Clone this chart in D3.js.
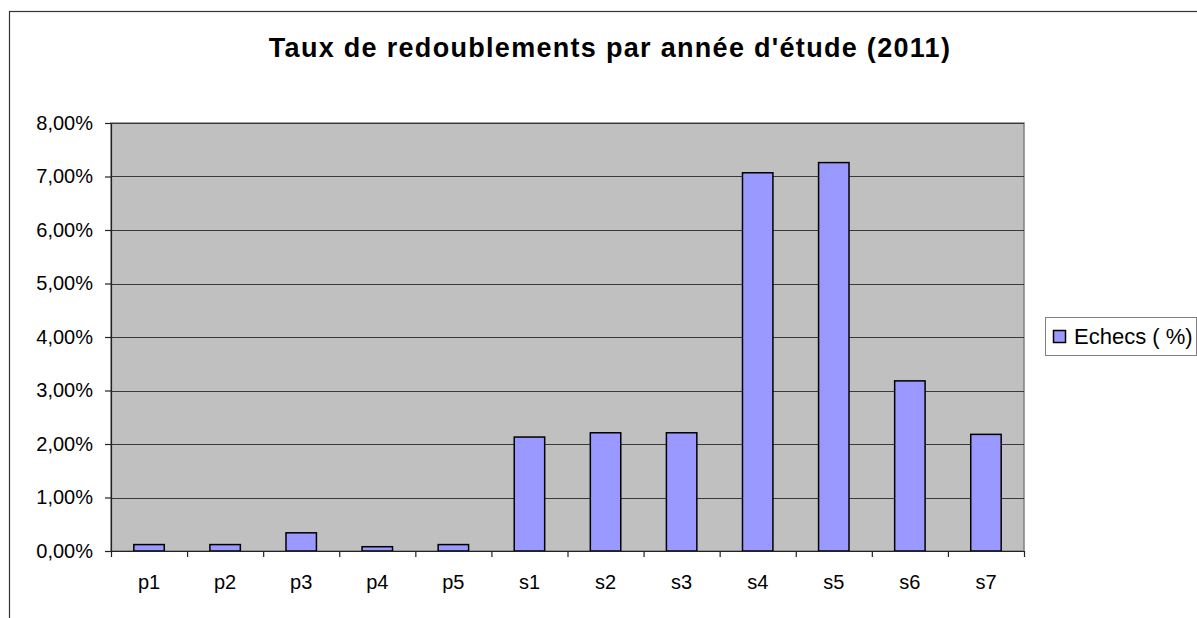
<!DOCTYPE html>
<html>
<head>
<meta charset="utf-8">
<script src="https://cdn.jsdelivr.net/npm/d3@7"></script>
<style>
  body { margin: 0; background: #fff; }
  svg { display: block; font-family: "Liberation Sans", Arial, sans-serif; }
</style>
</head>
<body>
<div id="chart"></div>
<script>
var svgWidth = 1197;
var svgHeight = 618;

// data
var categories = ["p1", "p2", "p3", "p4", "p5", "s1", "s2", "s3", "s4", "s5", "s6", "s7"];
var echecs = [0.0012, 0.0012, 0.0034, 0.0008, 0.0012, 0.0213, 0.0221, 0.0221, 0.0707, 0.0726, 0.0318, 0.0218];
var yTicks = [0, 0.01, 0.02, 0.03, 0.04, 0.05, 0.06, 0.07, 0.08];
var seriesName = "Echecs ( %)";
var title = "Taux de redoublements par année d'étude (2011)";

var plot = { left: 111, right: 1024, top: 123, bottom: 551 };

var svg = d3.select("#chart")
  .append("svg")
  .attr("width", svgWidth)
  .attr("height", svgHeight);

// outer chart frame (runs off the right and bottom edges)
svg.append("rect")
  .attr("x", 9.5)
  .attr("y", 11.5)
  .attr("width", 1300)
  .attr("height", 800)
  .attr("fill", "#fff")
  .attr("stroke", "#333")
  .attr("stroke-width", 1.2);

svg.append("text")
  .attr("x", 610)
  .attr("y", 57)
  .attr("text-anchor", "middle")
  .attr("font-size", "27px")
  .attr("font-weight", "bold")
  .attr("letter-spacing", "1.3px")
  .attr("fill", "#000")
  .text(title);

var x = d3.scaleBand()
  .domain(categories)
  .range([plot.left, plot.right])
  .paddingInner(0.6)
  .paddingOuter(0.3);

var xEdges = d3.scaleLinear()
  .domain([0, categories.length])
  .range([plot.left, plot.right]);

var y = d3.scaleLinear()
  .domain([0, 0.08])
  .range([plot.bottom, plot.top]);

// plot area
svg.append("rect")
  .attr("x", plot.left)
  .attr("y", plot.top)
  .attr("width", plot.right - plot.left)
  .attr("height", plot.bottom - plot.top)
  .attr("fill", "#c0c0c0")
  .attr("stroke", "#808080")
  .attr("stroke-width", 1.5);

// gridlines
svg.append("g")
  .selectAll("line")
  .data(yTicks.slice(1))
  .enter()
  .append("line")
  .attr("x1", plot.left)
  .attr("x2", plot.right)
  .attr("y1", d => Math.round(y(d)) + 0.5)
  .attr("y2", d => Math.round(y(d)) + 0.5)
  .attr("stroke", "#3a3a3a")
  .attr("stroke-width", 1);

// bars
svg.append("g")
  .selectAll("rect")
  .data(echecs)
  .enter()
  .append("rect")
  .attr("x", (d, i) => x(categories[i]))
  .attr("y", d => y(d))
  .attr("width", x.bandwidth())
  .attr("height", d => y(0) - y(d))
  .attr("fill", "#9999ff")
  .attr("stroke", "#000")
  .attr("stroke-width", 1.5);

var fmt = d => d3.format(".2f")(d * 100).replace(".", ",") + "%";

var leftAxis = d3.axisLeft(y)
  .tickValues(yTicks)
  .tickFormat(fmt)
  .tickSize(6)
  .tickSizeOuter(0)
  .tickPadding(12);

var yAxis = svg.append("g")
  .attr("transform", `translate(${plot.left}, 0)`)
  .call(leftAxis);
yAxis.selectAll("text")
  .attr("font-size", "20px")
  .attr("font-family", "Liberation Sans, Arial, sans-serif")
  .attr("fill", "#000");
yAxis.selectAll("line, path").attr("stroke", "#222").attr("stroke-width", 1.2);

// tick marks between categories
var edgeAxis = d3.axisBottom(xEdges)
  .tickValues(d3.range(0, categories.length + 1))
  .tickFormat("")
  .tickSize(6)
  .tickSizeOuter(0);

var xAxis = svg.append("g")
  .attr("transform", `translate(0, ${plot.bottom})`)
  .call(edgeAxis);
xAxis.selectAll("line, path").attr("stroke", "#222").attr("stroke-width", 1.2);

var bottomAxis = d3.axisBottom(x)
  .tickSize(0)
  .tickPadding(24);

var xLabels = svg.append("g")
  .attr("transform", `translate(0, ${plot.bottom})`)
  .call(bottomAxis);
xLabels.select(".domain").remove();
xLabels.selectAll("text")
  .attr("font-size", "20px")
  .attr("font-family", "Liberation Sans, Arial, sans-serif")
  .attr("fill", "#000");

// legend
var legend = svg.append("g");
legend.append("rect")
  .attr("x", 1045.5)
  .attr("y", 317.5)
  .attr("width", 151)
  .attr("height", 38)
  .attr("fill", "#fff")
  .attr("stroke", "#808080")
  .attr("stroke-width", 1);
legend.append("rect")
  .attr("x", 1053.5)
  .attr("y", 330.5)
  .attr("width", 12)
  .attr("height", 12)
  .attr("fill", "#9999ff")
  .attr("stroke", "#000")
  .attr("stroke-width", 1.5);
legend.append("text")
  .attr("x", 1074)
  .attr("y", 344)
  .attr("font-size", "22px")
  .attr("fill", "#000")
  .text(seriesName);
</script>
</body>
</html>
